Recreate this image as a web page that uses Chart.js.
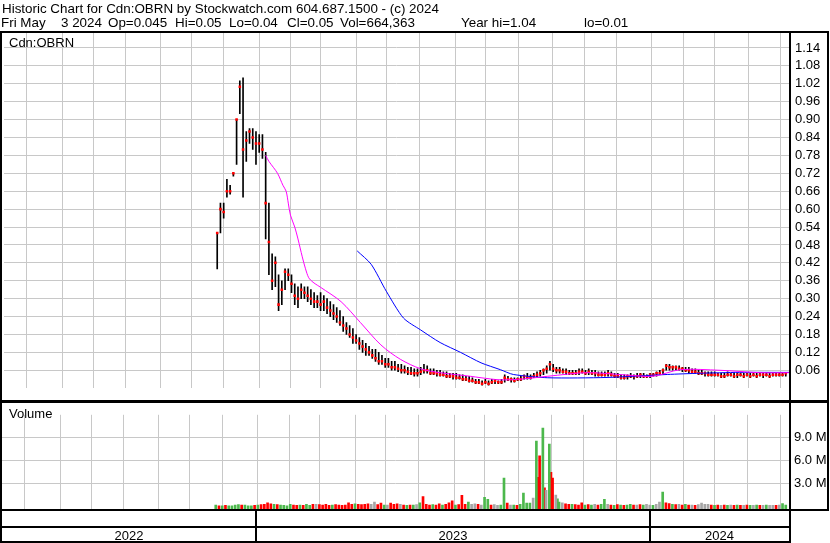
<!DOCTYPE html>
<html>
<head>
<meta charset="utf-8">
<script src="https://cdn.jsdelivr.net/npm/chart.js@4.4.1/dist/chart.umd.min.js"></script>
<style>
  body { margin: 0; background: #fff; }
  #wrap { position: relative; width: 830px; height: 543px; overflow: hidden; font-family: "Liberation Sans", Arial, sans-serif; }
  .hdr { position: absolute; font-size: 13.4px; line-height: 15px; white-space: pre; color: #000; }
  canvas { position: absolute; left: 0; }
</style>
</head>
<body>
<div id="wrap">
  <canvas id="price" width="830" height="402" style="top:0"></canvas>
  <canvas id="vol" width="830" height="141" style="top:402px"></canvas>
  <div class="hdr" style="top:1px;left:2px">Historic Chart for Cdn:OBRN by Stockwatch.com 604.687.1500 - (c) 2024</div>
  <div class="hdr" style="top:15px;left:1px">Fri May</div>
  <div class="hdr" style="top:15px;left:61px">3 2024</div>
  <div class="hdr" style="top:15px;left:108px">Op=0.045</div>
  <div class="hdr" style="top:15px;left:175px">Hi=0.05</div>
  <div class="hdr" style="top:15px;left:229px">Lo=0.04</div>
  <div class="hdr" style="top:15px;left:287px">Cl=0.05</div>
  <div class="hdr" style="top:15px;left:340px">Vol=664,363</div>
  <div class="hdr" style="top:15px;left:461px">Year hi=1.04</div>
  <div class="hdr" style="top:15px;left:584px">lo=0.01</div>
</div>
<script>
// x values are days counted from 2023-01-01
const firstDay = -37;
const dayStep = 3;
const xMin = -235;
const xMax = 494;
const gridDays = [-214, -181, -152, -122, -90, -61, -31, 2, 31, 59, 92, 120, 151, 184, 212, 243, 274, 304, 334, 366, 396, 425, 456, 486];
const yearStarts = [0, 365];
const yearLabels = ['2022', '2023', '2024'];
const priceTicks = [0.06, 0.12, 0.18, 0.24, 0.30, 0.36, 0.42, 0.48, 0.54, 0.60, 0.66, 0.72, 0.78, 0.84, 0.90, 0.96, 1.02, 1.08, 1.14];
const volTicks = [3, 6, 9];

const priceHi = [
  0.52, 0.62, 0.62, 0.70, 0.68, 0.72, 0.90, 1.03, 1.04, 0.86,
  0.87, 0.87, 0.86, 0.85, 0.85, 0.79, 0.62, 0.45, 0.44, 0.38,
  0.36, 0.40, 0.40, 0.38, 0.35, 0.34, 0.35, 0.34, 0.34, 0.33,
  0.32, 0.31, 0.32, 0.31, 0.30, 0.29, 0.28, 0.27, 0.26, 0.24,
  0.22, 0.21, 0.20, 0.18, 0.17, 0.16, 0.15, 0.14, 0.13, 0.13,
  0.12, 0.11, 0.10, 0.10, 0.09, 0.09, 0.08, 0.08, 0.075, 0.07,
  0.07, 0.065, 0.065, 0.07, 0.08, 0.075, 0.065, 0.065, 0.06, 0.06,
  0.055, 0.055, 0.05, 0.05, 0.05, 0.045, 0.045, 0.04, 0.04, 0.035,
  0.03, 0.03, 0.025, 0.03, 0.025, 0.03, 0.03, 0.025, 0.03, 0.045,
  0.04, 0.035, 0.035, 0.035, 0.04, 0.045, 0.05, 0.045, 0.05, 0.055,
  0.06, 0.065, 0.075, 0.09, 0.08, 0.07, 0.07, 0.065, 0.065, 0.06,
  0.06, 0.06, 0.065, 0.065, 0.06, 0.065, 0.06, 0.06, 0.055, 0.055,
  0.055, 0.06, 0.055, 0.05, 0.05, 0.045, 0.045, 0.045, 0.05, 0.045,
  0.05, 0.05, 0.05, 0.045, 0.05, 0.05, 0.055, 0.06, 0.065, 0.08,
  0.08, 0.075, 0.075, 0.075, 0.07, 0.07, 0.07, 0.065, 0.065, 0.06,
  0.06, 0.055, 0.055, 0.055, 0.055, 0.05, 0.05, 0.05, 0.055, 0.05,
  0.05, 0.05, 0.05, 0.05, 0.05, 0.05, 0.05, 0.05, 0.05, 0.05,
  0.05, 0.05, 0.05, 0.05, 0.05, 0.05, 0.05
];
const priceLo = [
  0.40, 0.52, 0.57, 0.64, 0.65, 0.71, 0.75, 0.92, 0.64, 0.76,
  0.82, 0.80, 0.75, 0.79, 0.77, 0.50, 0.38, 0.33, 0.34, 0.26,
  0.28, 0.33, 0.36, 0.32, 0.28, 0.27, 0.30, 0.30, 0.29, 0.28,
  0.27, 0.27, 0.26, 0.26, 0.25, 0.24, 0.23, 0.22, 0.21, 0.19,
  0.18, 0.17, 0.15, 0.15, 0.13, 0.12, 0.11, 0.11, 0.10, 0.09,
  0.08, 0.08, 0.07, 0.07, 0.06, 0.06, 0.055, 0.05, 0.05, 0.045,
  0.045, 0.04, 0.04, 0.045, 0.05, 0.05, 0.045, 0.045, 0.04, 0.04,
  0.04, 0.035, 0.035, 0.03, 0.03, 0.03, 0.025, 0.025, 0.02, 0.02,
  0.015, 0.015, 0.01, 0.015, 0.01, 0.015, 0.015, 0.015, 0.015, 0.02,
  0.025, 0.02, 0.02, 0.025, 0.025, 0.03, 0.03, 0.03, 0.035, 0.035,
  0.04, 0.045, 0.05, 0.06, 0.055, 0.05, 0.05, 0.05, 0.045, 0.045,
  0.045, 0.045, 0.045, 0.05, 0.045, 0.045, 0.045, 0.04, 0.04, 0.04,
  0.04, 0.04, 0.04, 0.035, 0.035, 0.03, 0.03, 0.03, 0.035, 0.03,
  0.035, 0.035, 0.035, 0.035, 0.035, 0.04, 0.04, 0.045, 0.045, 0.06,
  0.06, 0.06, 0.06, 0.06, 0.055, 0.055, 0.05, 0.05, 0.05, 0.045,
  0.045, 0.04, 0.04, 0.04, 0.04, 0.04, 0.035, 0.035, 0.04, 0.04,
  0.035, 0.035, 0.04, 0.035, 0.04, 0.035, 0.04, 0.035, 0.04, 0.035,
  0.04, 0.035, 0.04, 0.04, 0.04, 0.04, 0.04
];
const priceClose = [
  0.52, 0.60, 0.59, 0.66, 0.66, 0.72, 0.90, 1.01, 0.80, 0.83,
  0.86, 0.84, 0.82, 0.82, 0.80, 0.62, 0.49, 0.36, 0.42, 0.28,
  0.33, 0.39, 0.38, 0.35, 0.31, 0.30, 0.33, 0.32, 0.31, 0.30,
  0.29, 0.29, 0.28, 0.29, 0.27, 0.26, 0.25, 0.24, 0.22, 0.21,
  0.20, 0.18, 0.17, 0.16, 0.15, 0.14, 0.13, 0.12, 0.11, 0.10,
  0.09, 0.09, 0.08, 0.08, 0.07, 0.07, 0.065, 0.06, 0.06, 0.055,
  0.05, 0.05, 0.05, 0.055, 0.06, 0.06, 0.05, 0.05, 0.05, 0.045,
  0.045, 0.04, 0.04, 0.04, 0.035, 0.035, 0.03, 0.03, 0.025, 0.025,
  0.02, 0.02, 0.015, 0.02, 0.015, 0.02, 0.025, 0.02, 0.02, 0.035,
  0.03, 0.03, 0.025, 0.03, 0.03, 0.04, 0.035, 0.035, 0.04, 0.045,
  0.05, 0.06, 0.065, 0.08, 0.065, 0.06, 0.06, 0.055, 0.055, 0.05,
  0.05, 0.05, 0.055, 0.055, 0.05, 0.055, 0.05, 0.05, 0.045, 0.045,
  0.045, 0.05, 0.045, 0.04, 0.04, 0.035, 0.035, 0.04, 0.04, 0.04,
  0.04, 0.045, 0.04, 0.04, 0.045, 0.045, 0.05, 0.05, 0.06, 0.075,
  0.07, 0.07, 0.07, 0.065, 0.065, 0.06, 0.06, 0.055, 0.055, 0.05,
  0.05, 0.05, 0.045, 0.045, 0.045, 0.045, 0.04, 0.04, 0.045, 0.045,
  0.04, 0.045, 0.045, 0.04, 0.045, 0.04, 0.045, 0.04, 0.045, 0.045,
  0.045, 0.04, 0.045, 0.045, 0.045, 0.045, 0.05
];

// moving averages
const maShortDays = [8, 11, 19, 24, 27, 29, 31, 35, 38, 42, 45, 48, 52, 56, 59, 78, 96, 115, 133, 152, 170, 198, 208, 226, 247, 270, 307, 344, 368, 393, 430, 467, 494];
const maShort = [0.78, 0.76, 0.72, 0.68, 0.66, 0.62, 0.58, 0.54, 0.50, 0.44, 0.40, 0.37, 0.355, 0.345, 0.338, 0.29, 0.22, 0.145, 0.097, 0.065, 0.052, 0.04, 0.035, 0.028, 0.031, 0.04, 0.052, 0.044, 0.04, 0.062, 0.06, 0.052, 0.052];
const maLongDays = [93, 106, 120, 136, 152, 170, 189, 208, 226, 238, 270, 325, 381, 411, 448, 494];
const maLong = [0.46, 0.415, 0.325, 0.235, 0.195, 0.153, 0.12, 0.085, 0.062, 0.046, 0.035, 0.036, 0.046, 0.05, 0.053, 0.053];

// volume in millions, same days as the price bars; g = up, r = down, n = unchanged
const volume = [
  0.2, 0.1, 0.1, 0.15, 0.1, 0.1, 0.2, 0.25, 0.2, 0.2,
  0.1, 0.1, 0.15, 0.2, 0.25, 0.3, 0.5, 0.35, 0.3, 0.25,
  0.2, 0.15, 0.1, 0.3, 0.2, 0.15, 0.2, 0.15, 0.3, 0.15,
  0.3, 0.3, 0.25, 0.2, 0.3, 0.15, 0.2, 0.25, 0.2, 0.15,
  0.2, 0.5, 0.3, 0.35, 0.3, 0.25, 0.3, 0.35, 0.3, 0.6,
  0.25, 0.45, 0.2, 0.2, 0.45, 0.3, 0.35, 0.3, 0.2, 0.15,
  0.2, 0.2, 0.25, 0.5, 1.3, 0.3, 0.2, 0.25, 0.2, 0.35,
  0.2, 0.3, 0.5, 0.75, 0.2, 0.25, 1.45, 0.3, 0.6, 0.3,
  0.35, 0.3, 0.2, 1.2, 0.95, 0.2, 0.25, 0.15, 0.2, 3.7,
  0.45, 0.2, 0.2, 0.15, 0.3, 1.75, 0.45, 0.45, 1.1, 8.5,
  6.6, 10.2, 2.1, 8.1, 3.7, 1.5, 0.6, 0.5, 0.35, 0.3,
  0.3, 0.25, 0.2, 0.5, 0.2, 0.25, 0.2, 0.3, 0.2, 0.3,
  0.95, 0.3, 0.2, 0.15, 0.25, 0.2, 0.15, 0.2, 0.3, 0.2,
  0.2, 0.25, 0.2, 0.3, 0.2, 0.15, 0.3, 0.6, 1.9, 0.5,
  0.4, 0.3, 0.25, 0.3, 0.2, 0.3, 0.2, 0.2, 0.15, 0.25,
  0.45, 0.3, 0.3, 0.2, 0.15, 0.2, 0.15, 0.2, 0.15, 0.2,
  0.15, 0.2, 0.15, 0.15, 0.2, 0.15, 0.15, 0.2, 0.15, 0.15,
  0.2, 0.15, 0.15, 0.15, 0.2, 0.4, 0.2
];
const volumeDir = (
  'grgrggggrg' + 'ggrgrrrrgr' + 'ggggrrgrgg' + 'rnrrrrgrrr' + 'rrrgrrrrnn' +
  'rrgnrrrnrg' + 'rgngrrrgrr' + 'grrrgrrrgn' + 'nrnggrnngg' + 'rngrggggng' +
  'rgngrngnrr' + 'grrrgrgnrg' + 'gnrgrgrggr' + 'nrgnngnngr' + 'rgrnrgrnrn' +
  'nnnrgrnrgn' + 'rgrnrgngrn' + 'gnnrngg'
).split('');
const extraVolDays = [261.5, 267.5, 273.5, 279.5];
const extraVolume = [3.8, 2.45, 4.45, 1.0];
const extraVolDir = ['r', 'r', 'r', 'g'];

const volMin = -0.31;
const volMax = 11.91;
const dirColor = { g: '#4cb84c', r: '#ff0000', n: '#a6a6a6' };
const gridColor = '#c8c8c8';
const fontSpec = { family: '"Liberation Sans", Arial, sans-serif', size: 13 };

const priceDays = priceHi.map((_, i) => firstDay + i * dayStep);

const xScale = () => ({
  type: 'linear', min: xMin, max: xMax, offset: false,
  afterBuildTicks: (scale) => { scale.ticks = gridDays.map((v) => ({ value: v })); },
  ticks: { display: false },
  grid: { color: gridColor, drawTicks: false, offset: false },
  border: { display: false }
});

const priceFrame = {
  id: 'priceFrame',
  afterDraw(chart) {
    const ctx = chart.ctx;
    ctx.save();
    ctx.fillStyle = '#000';
    ctx.fillRect(0, 31, 829, 2);
    ctx.fillRect(0, 31, 2, 371);
    ctx.fillRect(789, 31, 2, 371);
    ctx.fillRect(827, 31, 2, 371);
    ctx.fillRect(0, 400, 829, 2);
    ctx.font = '13px "Liberation Sans", Arial, sans-serif';
    ctx.textBaseline = 'alphabetic';
    ctx.fillText('Cdn:OBRN', 9, 47);
    ctx.restore();
  }
};

const volFrame = {
  id: 'volFrame',
  afterDraw(chart) {
    const ctx = chart.ctx;
    const x = chart.scales.x;
    const area = chart.chartArea;
    const cuts = yearStarts.map((d) => Math.round(x.getPixelForValue(d)));
    const edges = [area.left].concat(cuts, [area.right]);
    ctx.save();
    ctx.fillStyle = '#000';
    ctx.fillRect(0, 0, 829, 1);
    ctx.fillRect(0, 0, 2, 141);
    ctx.fillRect(789, 0, 2, 141);
    ctx.fillRect(827, 0, 2, 109);
    ctx.fillRect(0, 107, 829, 2);
    ctx.fillRect(0, 124, 791, 2);
    ctx.fillRect(0, 139, 791, 2);
    cuts.forEach((c) => ctx.fillRect(c - 1, 109, 2, 32));
    ctx.font = '13px "Liberation Sans", Arial, sans-serif';
    ctx.textBaseline = 'alphabetic';
    ctx.textAlign = 'left';
    ctx.fillText('Volume', 9, 16);
    ctx.textAlign = 'center';
    yearLabels.forEach((label, i) => ctx.fillText(label, (edges[i] + edges[i + 1]) / 2, 138));
    ctx.restore();
  }
};

new Chart(document.getElementById('price'), {
  type: 'bar',
  data: {
    datasets: [
      {
        type: 'line', data: maShortDays.map((d, i) => ({ x: d, y: maShort[i] })),
        borderColor: '#ff00ff', borderWidth: 1, pointRadius: 0, tension: 0.3, order: 0
      },
      {
        type: 'line', data: maLongDays.map((d, i) => ({ x: d, y: maLong[i] })),
        borderColor: '#0000ff', borderWidth: 1, pointRadius: 0, tension: 0.25, order: 0
      },
      {
        type: 'scatter', data: priceDays.map((d, i) => ({ x: d, y: priceClose[i] })),
        pointStyle: 'rect', pointRadius: 1.8, backgroundColor: '#ff0000', borderWidth: 0, order: 1
      },
      {
        type: 'bar', data: priceDays.map((d, i) => ({ x: d, y: [priceLo[i], priceHi[i]] })),
        backgroundColor: '#000', barThickness: 1, order: 2
      }
    ]
  },
  options: {
    responsive: false, animation: false, devicePixelRatio: 1,
    layout: { padding: { left: 2, top: 33, right: 0, bottom: 2 } },
    plugins: { legend: { display: false }, tooltip: { enabled: false } },
    scales: {
      x: xScale(),
      y: {
        position: 'right', min: 0, max: 1.19,
        afterBuildTicks: (scale) => { scale.ticks = priceTicks.map((v) => ({ value: v })); },
        afterFit: (scale) => { scale.width = 41; },
        ticks: { color: '#000', padding: 6, font: fontSpec, callback: (v) => v.toFixed(2) },
        grid: { color: gridColor, drawTicks: false },
        border: { display: false }
      }
    }
  },
  plugins: [priceFrame]
});

new Chart(document.getElementById('vol'), {
  type: 'bar',
  data: {
    datasets: [
      {
        data: priceDays.map((d, i) => ({ x: d, y: volume[i] })),
        backgroundColor: volumeDir.map((k) => dirColor[k]),
        barThickness: 2, base: volMin
      },
      {
        data: extraVolDays.map((d, i) => ({ x: d, y: extraVolume[i] })),
        backgroundColor: extraVolDir.map((k) => dirColor[k]),
        barThickness: 2, base: volMin
      }
    ]
  },
  options: {
    responsive: false, animation: false, devicePixelRatio: 1,
    layout: { padding: { left: 2, top: 1, right: 0, bottom: 34 } },
    plugins: { legend: { display: false }, tooltip: { enabled: false } },
    datasets: { bar: { grouped: false } },
    scales: {
      x: xScale(),
      y: {
        position: 'right', min: volMin, max: volMax,
        afterBuildTicks: (scale) => { scale.ticks = volTicks.map((v) => ({ value: v })); },
        afterFit: (scale) => { scale.width = 41; },
        ticks: { color: '#000', padding: 5, font: fontSpec, callback: (v) => v.toFixed(1) + ' M' },
        grid: { color: gridColor, drawTicks: false },
        border: { display: false }
      }
    }
  },
  plugins: [volFrame]
});
</script>
</body>
</html>
